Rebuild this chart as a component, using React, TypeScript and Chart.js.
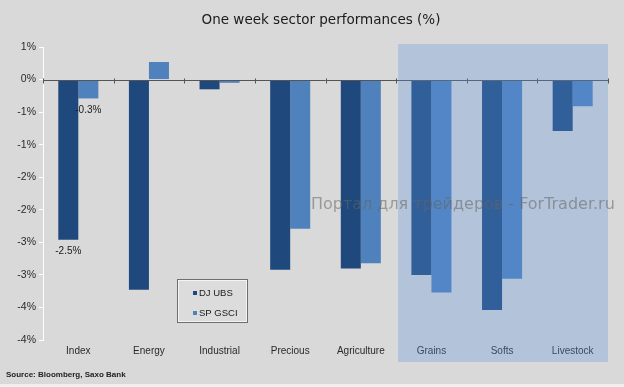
import React, { useEffect, useRef } from "react";
import { Chart, registerables } from "chart.js";

Chart.register(...registerables);

const categories = ["Index", "Energy", "Industrial", "Precious", "Agriculture", "Grains", "Softs", "Livestock"];
const djUbs = [-2.46, -3.23, -0.15, -2.92, -2.9, -3.0, -3.54, -0.79];
const spGsci = [-0.29, 0.27, -0.05, -2.29, -2.82, -3.27, -3.06, -0.41];
const seriesNames = ["DJ UBS", "SP GSCI"];
const pointLabels: { series: number; index: number; text: string }[] = [
  { series: 0, index: 0, text: "-2.5%" },
  { series: 1, index: 0, text: "-0.3%" },
];
const highlightFrom = "Grains";
const titleText = "One week sector performances (%)";
const sourceText = "Source: Bloomberg, Saxo Bank";
const watermarkText = "Портал для трейдеров - ForTrader.ru";
const yMin = -4;
const yMax = 0.5;
const yStep = 0.5;

const excelRound = (v: number) => {
  const r = Math.sign(v) * Math.round(Math.abs(v) + 1e-9);
  return r === 0 ? 0 : r;
};

export default function App() {
  const ref = useRef<HTMLCanvasElement | null>(null);

  useEffect(() => {
    document.body.style.margin = "0";
    const canvas = ref.current!;
    const decor = {
      id: "decor",
      beforeDraw(chart: any) {
        const ctx = chart.ctx as CanvasRenderingContext2D;
        ctx.save();
        ctx.fillStyle = "#d9d9d9";
        ctx.fillRect(0, 0, chart.width, chart.height);
        ctx.fillStyle = "#efefef";
        ctx.fillRect(0, chart.height - 3, chart.width, 3);
        ctx.fillStyle = "#1a1a1a";
        ctx.font = "13.5px 'DejaVu Sans'";
        ctx.textAlign = "center";
        ctx.textBaseline = "middle";
        ctx.fillText(titleText, 321, 20);
        ctx.fillStyle = "#222";
        ctx.font = "bold 8px 'Liberation Sans'";
        ctx.textAlign = "left";
        ctx.fillText(sourceText, 6, 375);
        ctx.restore();
      },
      afterDatasetsDraw(chart: any) {
        const ctx = chart.ctx as CanvasRenderingContext2D;
        const xs = chart.scales.x;
        const ys = chart.scales.y;
        const area = chart.chartArea;
        const y0 = Math.round(ys.getPixelForValue(0)) + 0.5;
        const n = categories.length;
        const cw = (area.right - area.left) / n;
        ctx.save();
        // zero line
        ctx.strokeStyle = "#555";
        ctx.lineWidth = 1;
        ctx.beginPath();
        ctx.moveTo(area.left, y0);
        ctx.lineTo(area.right, y0);
        for (let k = 0; k <= n; k++) {
          const x = Math.round(area.left + k * cw) + 0.5;
          ctx.moveTo(x, y0 - 2);
          ctx.lineTo(x, y0 + 3);
        }
        ctx.stroke();

        // highlight overlay
        const hi = categories.indexOf(highlightFrom);
        const hx = (xs.getPixelForValue(hi - 1) + xs.getPixelForValue(hi)) / 2 + 2;
        ctx.fillStyle = "rgba(94,147,217,0.3)";
        ctx.fillRect(hx, area.top - 3, area.right - hx, area.bottom + 22 - (area.top - 3));

        // point labels
        ctx.fillStyle = "#1a1a1a";
        ctx.font = "10px 'Liberation Sans'";
        ctx.textAlign = "center";
        ctx.textBaseline = "middle";
        pointLabels.forEach((p) => {
          const el = chart.getDatasetMeta(p.series).data[p.index];
          ctx.fillText(p.text, el.x, el.y + 12);
        });

        // legend box
        ctx.fillStyle = "#dcdcdc";
        ctx.fillRect(177, 279, 71, 44);
        ctx.strokeStyle = "#f4f4f4";
        ctx.strokeRect(178.5, 280.5, 68, 41);
        ctx.strokeStyle = "#6e6e6e";
        ctx.strokeRect(177.5, 279.5, 70, 43);
        const legY = [293, 313];
        chart.data.datasets.forEach((ds: any, i: number) => {
          ctx.fillStyle = ds.backgroundColor;
          ctx.fillRect(193, legY[i] - 2, 4, 4);
          ctx.fillStyle = "#1a1a1a";
          ctx.font = "9.5px 'Liberation Sans'";
          ctx.textAlign = "left";
          ctx.fillText(ds.label, 199, legY[i]);
        });

        // watermark
        ctx.font = "15px 'DejaVu Sans'";
        const w = ctx.measureText(watermarkText).width;
        const size = 15 * (304 / w);
        ctx.font = `${size}px 'DejaVu Sans'`;
        ctx.fillStyle = "rgba(100,100,100,0.55)";
        ctx.textAlign = "left";
        ctx.fillText(watermarkText, 311, 205);
        ctx.restore();
      },
    };

    const chart = new Chart(canvas, {
      type: "bar",
      data: {
        labels: categories,
        datasets: [
          { label: seriesNames[0], data: djUbs, backgroundColor: "#1f497d", borderWidth: 0 },
          { label: seriesNames[1], data: spGsci, backgroundColor: "#4f81bd", borderWidth: 0 },
        ],
      },
      options: {
        responsive: false,
        animation: false,
        devicePixelRatio: 1,
        layout: { padding: { left: 0, right: 16, top: 47, bottom: 25 } },
        datasets: { bar: { categoryPercentage: 0.567, barPercentage: 1 } },
        plugins: { legend: { display: false }, tooltip: { enabled: false }, title: { display: false } },
        scales: {
          x: {
            grid: { display: false, drawTicks: false, tickLength: 0 },
            border: { display: false },
            ticks: { color: "#2a2a2a", font: { family: "'Liberation Sans'", size: 10 }, padding: 5, maxRotation: 0, autoSkip: false },
            afterFit: (s: any) => { s.height = 22; },
          },
          y: {
            min: yMin,
            max: yMax,
            grid: { drawOnChartArea: false, drawTicks: true, tickLength: 4, color: "#ffffff" },
            border: { display: true, color: "#ffffff", width: 1 },
            ticks: {
              stepSize: yStep,
              padding: 3,
              color: "#2a2a2a",
              font: { family: "'Liberation Sans'", size: 10.5 },
              callback: (v: any) => `${excelRound(Number(v))}%`,
            },
            afterFit: (s: any) => { s.width = 43; },
          },
        },
      },
      plugins: [decor],
    });
    return () => chart.destroy();
  }, []);

  return (
    <div style={{ width: 624, height: 387 }}>
      <canvas ref={ref} width={624} height={387} style={{ display: "block" }} />
    </div>
  );
}
